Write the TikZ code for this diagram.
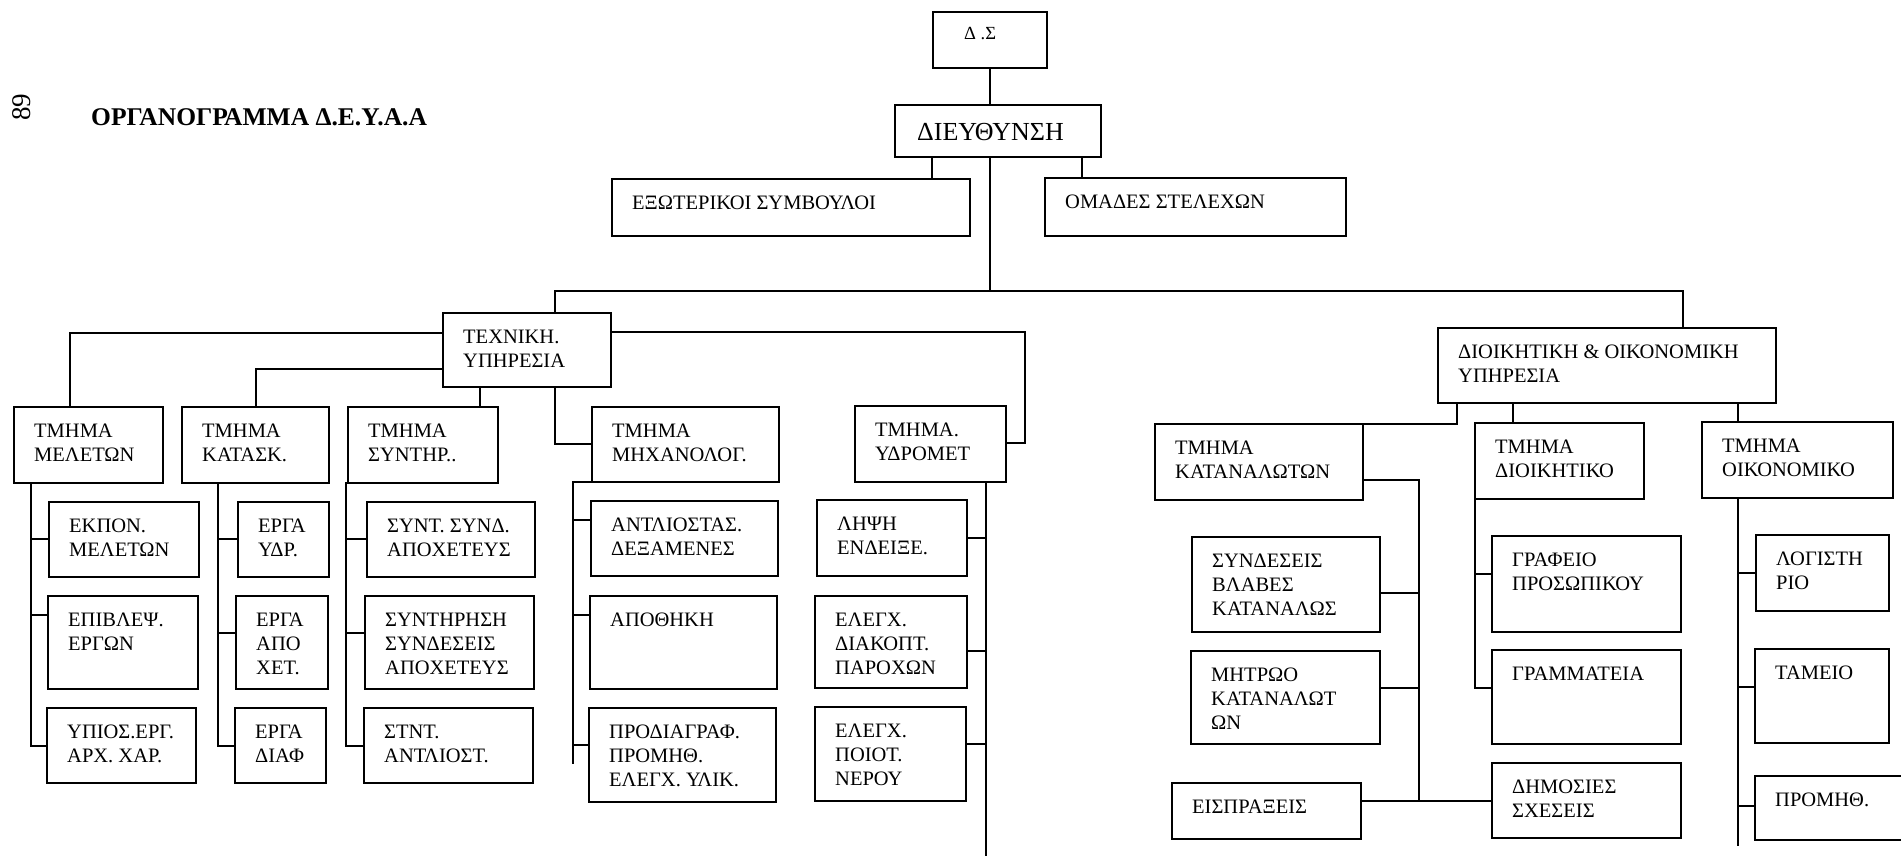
\documentclass[tikz,border=0pt]{standalone}
\usepackage{fontspec}
\setmainfont{Liberation Serif}
\newcommand\mybox[6]{%
  \node[boxn, minimum width={#4-#2}, minimum height={#5-#3}] (#1) at (#2,#3) {};
  \node[lbl] (#1-t) at ({#2+20},{#3+13}) {\strut #6};}
\newcommand\branchL[3]{\draw[conn] (#1 |- 0,#3) -- (#2.west |- 0,#3);}
\newcommand\branchR[3]{\draw[conn] (#1 |- 0,#3) -- (#2.east |- 0,#3);}
\begin{document}
\begin{tikzpicture}[x=1pt,y=-1pt,
  conn/.style={line width=1.4pt, line cap=rect, line join=miter},
  boxn/.style={draw, line width=1.4pt, inner sep=0pt, outer sep=0pt, anchor=north west},
  lbl/.style={inner sep=0pt, anchor=north west, align=left, font=\fontsize{20.5}{24}\selectfont}]
\useasboundingbox (0,0) rectangle (1901,855);

% title
\node[font=\fontsize{25.5}{29}\selectfont\bfseries, anchor=base west, inner sep=0pt] (title) at (91,125) {ΟΡΓΑΝΟΓΡΑΜΜΑ Δ.Ε.Υ.Α.Α};
\node[font=\fontsize{27}{30}\selectfont, rotate=90, inner sep=0pt] (pg) at (22,107) {89};

% top
\mybox{ds}{933}{12}{1047}{68}{}
\node[lbl, anchor=base west, font=\fontsize{18.5}{22}\selectfont] (ds-l) at (964,39) {Δ .Σ};
\mybox{dir}{895}{105}{1101}{157}{}
\node[lbl, anchor=base west, font=\fontsize{26}{30}\selectfont] (dir-l) at (917,140) {ΔΙΕΥΘΥΝΣΗ};
\mybox{ext}{612}{179}{970}{236}{ΕΞΩΤΕΡΙΚΟΙ ΣΥΜΒΟΥΛΟΙ}
\mybox{omad}{1045}{178}{1346}{236}{ΟΜΑΔΕΣ ΣΤΕΛΕΧΩΝ}
\mybox{tech}{443}{313}{611}{387}{ΤΕΧΝΙΚΗ.\\ΥΠΗΡΕΣΙΑ}
\mybox{dioik}{1438}{328}{1776}{403}{ΔΙΟΙΚΗΤΙΚΗ \& ΟΙΚΟΝΟΜΙΚΗ\\ΥΠΗΡΕΣΙΑ}

% technical departments
\mybox{mel}{14}{407}{163}{483}{ΤΜΗΜΑ\\ΜΕΛΕΤΩΝ}
\mybox{kat}{182}{407}{329}{483}{ΤΜΗΜΑ\\ΚΑΤΑΣΚ.}
\mybox{synt}{348}{407}{498}{483}{ΤΜΗΜΑ\\ΣΥΝΤΗΡ..}
\mybox{mech}{592}{407}{779}{482}{ΤΜΗΜΑ\\ΜΗΧΑΝΟΛΟΓ.}
\mybox{ydr}{855}{406}{1006}{482}{ΤΜΗΜΑ.\\ΥΔΡΟΜΕΤ}

\mybox{a1}{49}{502}{199}{577}{ΕΚΠΟΝ.\\ΜΕΛΕΤΩΝ}
\mybox{a2}{48}{596}{198}{689}{ΕΠΙΒΛΕΨ.\\ΕΡΓΩΝ}
\mybox{a3}{47}{708}{196}{783}{ΥΠΙΟΣ.ΕΡΓ.\\ΑΡΧ. ΧΑΡ.}
\mybox{b1}{238}{502}{329}{577}{ΕΡΓΑ\\ΥΔΡ.}
\mybox{b2}{236}{596}{328}{689}{ΕΡΓΑ\\ΑΠΟ\\ΧΕΤ.}
\mybox{b3}{235}{708}{326}{783}{ΕΡΓΑ\\ΔΙΑΦ}
\mybox{c1}{367}{502}{535}{577}{ΣΥΝΤ. ΣΥΝΔ.\\ΑΠΟΧΕΤΕΥΣ}
\mybox{c2}{365}{596}{534}{689}{ΣΥΝΤΗΡΗΣΗ\\ΣΥΝΔΕΣΕΙΣ\\ΑΠΟΧΕΤΕΥΣ}
\mybox{c3}{364}{708}{533}{783}{ΣΤΝΤ.\\ΑΝΤΛΙΟΣΤ.}
\mybox{d1}{591}{501}{778}{576}{ΑΝΤΛΙΟΣΤΑΣ.\\ΔΕΞΑΜΕΝΕΣ}
\mybox{d2}{590}{596}{777}{689}{ΑΠΟΘΗΚΗ}
\mybox{d3}{589}{708}{776}{802}{ΠΡΟΔΙΑΓΡΑΦ.\\ΠΡΟΜΗΘ.\\ΕΛΕΓΧ. ΥΛΙΚ.}
\mybox{f1}{817}{500}{967}{576}{ΛΗΨΗ\\ΕΝΔΕΙΞΕ.}
\mybox{f2}{815}{596}{967}{688}{ΕΛΕΓΧ.\\ΔΙΑΚΟΠΤ.\\ΠΑΡΟΧΩΝ}
\mybox{f3}{815}{707}{966}{801}{ΕΛΕΓΧ.\\ΠΟΙΟΤ.\\ΝΕΡΟΥ}

% administrative departments
\mybox{katan}{1155}{424}{1363}{500}{ΤΜΗΜΑ\\ΚΑΤΑΝΑΛΩΤΩΝ}
\mybox{dtm}{1475}{423}{1644}{499}{ΤΜΗΜΑ\\ΔΙΟΙΚΗΤΙΚΟ}
\mybox{otm}{1702}{422}{1893}{498}{ΤΜΗΜΑ\\ΟΙΚΟΝΟΜΙΚΟ}
\mybox{g1}{1192}{537}{1380}{632}{ΣΥΝΔΕΣΕΙΣ\\ΒΛΑΒΕΣ\\ΚΑΤΑΝΑΛΩΣ}
\mybox{g2}{1191}{651}{1380}{744}{ΜΗΤΡΩΟ\\ΚΑΤΑΝΑΛΩΤ\\ΩΝ}
\mybox{g3}{1172}{783}{1361}{839}{ΕΙΣΠΡΑΞΕΙΣ}
\mybox{h1}{1492}{536}{1681}{632}{ΓΡΑΦΕΙΟ\\ΠΡΟΣΩΠΙΚΟΥ}
\mybox{h2}{1492}{650}{1681}{744}{ΓΡΑΜΜΑΤΕΙΑ}
\mybox{h3}{1492}{763}{1681}{838}{ΔΗΜΟΣΙΕΣ\\ΣΧΕΣΕΙΣ}
\mybox{k1}{1756}{535}{1889}{611}{ΛΟΓΙΣΤΗ\\ΡΙΟ}
\mybox{k2}{1755}{649}{1889}{743}{ΤΑΜΕΙΟ}
\mybox{k3}{1755}{776}{1912}{840}{ΠΡΟΜΗΘ.}

% connectors: top
\coordinate (hub) at (990,291);
\coordinate (hl) at (555,291);
\coordinate (hr) at (1683,291);
\draw[conn] (ds.south) -- (ds.south |- dir.north);
\draw[conn] (dir.south -| hub) -- (hub);
\draw[conn] (hl) -- (hr);
\draw[conn] (hl) -- (hl |- tech.north);
\draw[conn] (hr) -- (hr |- dioik.north);
\draw[conn] (dir.south -| 932,0) -- (ext.north -| 932,0);
\draw[conn] (dir.south -| 1082,0) -- (omad.north -| 1082,0);

% technical service
\draw[conn] (tech.west |- 0,333) -| (mel.north -| 70,0);
\draw[conn] (tech.west |- 0,369) -| (kat.north -| 256,0);
\draw[conn] (tech.south -| 480,0) -- (synt.north -| 480,0);
\draw[conn] (tech.south -| hl) |- (mech.west |- 0,444);
\coordinate (ty) at (1025,443);
\draw[conn] (tech.east |- 0,332) -| (ty) -- (ydr.east |- ty);

\coordinate (t1) at (31,483);
\draw[conn] (t1) |- (a3.west |- 0,746);
\branchL{t1}{a1}{539}
\branchL{t1}{a2}{615}
\coordinate (t2) at (218,483);
\draw[conn] (t2) |- (b3.west |- 0,746);
\branchL{t2}{b1}{539}
\branchL{t2}{b2}{633}
\coordinate (t3) at (346,483);
\draw[conn] (t3) |- (c3.west |- 0,746);
\branchL{t3}{c1}{539}
\branchL{t3}{c2}{633}
\coordinate (t4) at (573,482);
\draw[conn] (mech.south west) -- (t4) |- (d3.west |- 0,745);
\draw[conn] (t4) -- (573,763);
\branchL{t4}{d1}{520}
\branchL{t4}{d2}{615}
\coordinate (t5) at (986,482);
\draw[conn] (t5) -- (986,858);
\branchR{t5}{f1}{538}
\branchR{t5}{f2}{651}
\branchR{t5}{f3}{744}

% administrative service
\draw[conn] (dioik.south -| 1457,0) |- (katan.north east);
\draw[conn] (dioik.south -| 1513,0) -- (dtm.north -| 1513,0);
\draw[conn] (dioik.south -| 1738,0) -- (otm.north -| 1738,0);
\coordinate (t6) at (1419,801);
\draw[conn] (katan.east |- 0,480) -| (t6);
\draw[conn] (g3.east |- t6) -- (h3.west |- t6);
\branchR{t6}{g1}{593}
\branchR{t6}{g2}{688}
\coordinate (t7) at (1475,499);
\draw[conn] (t7) |- (h2.west |- 0,688);
\branchL{t7}{h1}{574}
\coordinate (t8) at (1738,498);
\draw[conn] (t8) -- (1738,845);
\branchL{t8}{k1}{573}
\branchL{t8}{k2}{687}
\branchL{t8}{k3}{806}
\end{tikzpicture}
\end{document}
